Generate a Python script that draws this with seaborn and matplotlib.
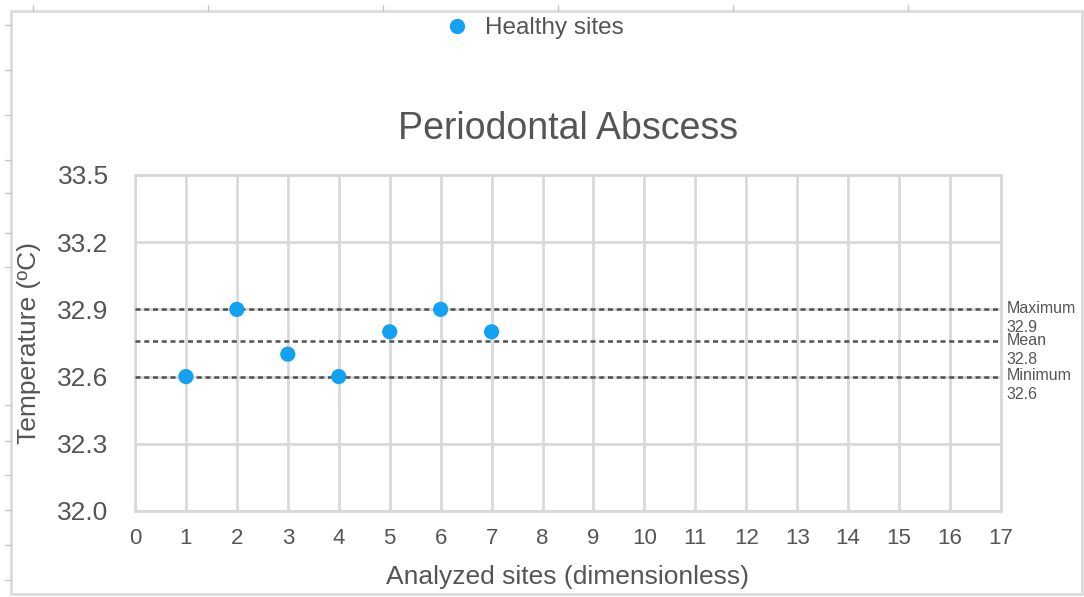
import numpy as np
import pandas as pd
import matplotlib.pyplot as plt
import seaborn as sns
from matplotlib.lines import Line2D
from matplotlib.patches import Rectangle

# data
sites = [1, 2, 3, 4, 5, 6, 7]
temps = [32.6, 32.9, 32.7, 32.6, 32.8, 32.9, 32.8]
series_name = "Healthy sites"
x_ticks = list(range(0, 18))
y_ticks = [32.0, 32.3, 32.6, 32.9, 33.2, 33.5]
stat_names = ["Maximum", "Mean", "Minimum"]
stat_values = [max(temps), float(np.mean(temps)), min(temps)]

df = pd.DataFrame({"site": sites, "temp": temps, "series": series_name})

sns.set_theme(style="white")
plt.rcParams['font.family'] = ['Liberation Sans', 'DejaVu Sans']

W, H = 1084, 597
fig = plt.figure(figsize=(W / 100, H / 100), dpi=100)
ax = fig.add_axes([135 / W, 1 - 511 / H, (1001 - 135) / W, (511 - 175) / H])

text_col = "#555555"
grid_col = "#d9d9d9"
dot_col = "#12a1f3"

sns.scatterplot(data=df, x="site", y="temp", color=dot_col, s=120, edgecolor="none",
                ax=ax, zorder=5, legend=False)

for v in stat_values:
    ax.axhline(v, color="#505050", lw=1.8, ls=(0, (2.0, 1.5)), zorder=3)

for name, v in zip(stat_names, stat_values):
    ax.annotate(f"{name}\n{v:.1f}", xy=(1, v), xycoords=("axes fraction", "data"),
                xytext=(4, 6), textcoords="offset points", ha="left", va="top",
                fontsize=11.5, color=text_col, linespacing=1.3, annotation_clip=False)

ax.set_xlim(0, 17)
ax.set_ylim(32.0, 33.5)
ax.set_xticks(x_ticks)
ax.set_yticks(y_ticks)
ax.set_yticklabels([f"{t:.1f}" for t in y_ticks])
ax.grid(True, color=grid_col, lw=2)
ax.set_axisbelow(True)
for sp in ax.spines.values():
    sp.set_color(grid_col)
    sp.set_linewidth(2)
ax.tick_params(axis="x", length=0, pad=12, labelsize=16, labelcolor=text_col)
ax.tick_params(axis="y", length=0, pad=19, labelsize=19, labelcolor=text_col)

ax.set_xlabel("Analyzed sites (dimensionless)", fontsize=19, color=text_col, labelpad=12)
ax.set_ylabel("Temperature (ºC)", fontsize=19, color=text_col, labelpad=12)
ax.set_title("Periodontal Abscess", fontsize=27, color=text_col, pad=26)

handle = Line2D([], [], marker="o", ls="none", color=dot_col, markersize=11, markeredgewidth=0)
fig.legend([handle], [series_name], loc="center", bbox_to_anchor=(0.4895, 1 - 28 / H),
           frameon=False, fontsize=17.5, labelcolor=text_col, handletextpad=0.35,
           handlelength=1.6)

# outer page frame with small ruler ticks
fig.patches.append(Rectangle((11 / W, 1 - 594 / H), (1082 - 11) / W, (594 - 11) / H,
                             transform=fig.transFigure, fill=False, ec="#dcdcdc", lw=2))
for x in [33, 208, 383, 558, 733, 908]:
    fig.add_artist(Line2D([x / W, x / W], [1 - 5 / H, 1 - 11 / H], color="#c8c8c8", lw=1))
for y in [25, 70, 115, 160, 193, 233, 267, 405, 441, 475, 510, 545, 580]:
    fig.add_artist(Line2D([5 / W, 11 / W], [1 - y / H, 1 - y / H], color="#c8c8c8", lw=1))

fig.savefig("out.png", dpi=100)
